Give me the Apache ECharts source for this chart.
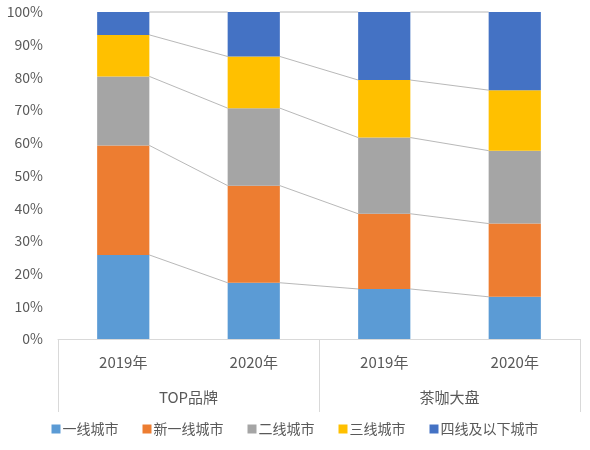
<!DOCTYPE html>
<html>
<head>
<meta charset="utf-8">
<script src="https://cdn.jsdelivr.net/npm/echarts@6/dist/echarts.min.js"></script>
<style>html,body{margin:0;padding:0;background:#fff}#c{width:590px;height:450px}</style>
</head>
<body>
<div id="c"></div>
<script>
var years = ['2019年', '2020年', '2019年', '2020年'];
var groups = ['TOP品牌', '茶咖大盘'];
var seriesNames = ['一线城市', '新一线城市', '二线城市', '三线城市', '四线及以下城市'];
var tier1 = [25.7, 17.2, 15.3, 12.9];
var newTier1 = [33.5, 29.7, 23.0, 22.4];
var tier2 = [21.1, 23.7, 23.3, 22.3];
var tier3 = [12.7, 15.8, 17.6, 18.5];
var tier4 = [7.0, 13.6, 20.8, 23.9];
var yTicks = [0, 10, 20, 30, 40, 50, 60, 70, 80, 90, 100];

var colors = ['#5B9BD5', '#ED7D31', '#A5A5A5', '#FFC000', '#4472C4'];
var allData = [tier1, newTier1, tier2, tier3, tier4];
var BAR_FRAC = 0.4;
var font = '"Noto Sans CJK SC", "Microsoft YaHei", sans-serif';

var chart = echarts.init(document.getElementById('c'));
var barSeries = seriesNames.map(function (n, k) {
  return {
    name: n, type: 'bar', stack: 'total', barWidth: (BAR_FRAC * 100) + '%',
    itemStyle: { color: colors[k] }, data: allData[k], z: 3
  };
});

function cum(i, k) {
  var s = 0;
  for (var j = 0; j <= k; j++) s += allData[j][i];
  return s;
}

var linkSeries = {
  type: 'custom', xAxisIndex: 0, yAxisIndex: 0, silent: true, z: 2,
  data: [[0], [1], [2]],
  encode: { x: 0 },
  renderItem: function (params, api) {
    var i = api.value(0);
    var bw = api.size([1, 0])[0];
    var children = [];
    for (var k = 0; k < allData.length; k++) {
      var a = api.coord([i, cum(i, k)]);
      var b = api.coord([i + 1, cum(i + 1, k)]);
      children.push({
        type: 'line',
        shape: { x1: a[0] + bw * BAR_FRAC / 2, y1: a[1], x2: b[0] - bw * BAR_FRAC / 2, y2: b[1] },
        style: { stroke: '#A6A6A6', lineWidth: 0.8 }
      });
    }
    return { type: 'group', children: children };
  }
};

chart.setOption({
  animation: false,
  textStyle: { fontFamily: font },
  grid: { left: 58, right: 10, top: 12, bottom: 111, containLabel: false },
  xAxis: [
    {
      type: 'category', data: years, position: 'bottom',
      axisLine: { show: true, lineStyle: { color: '#D9D9D9', width: 1 } },
      axisTick: { show: false },
      axisLabel: { color: '#595959', fontSize: 15, margin: 16, fontFamily: font }
    },
    {
      type: 'category', data: groups, position: 'bottom', offset: 0,
      axisLine: { show: false },
      axisTick: { show: true, length: 73, lineStyle: { color: '#D9D9D9', width: 1 } },
      axisLabel: { color: '#595959', fontSize: 15, margin: 51, fontFamily: font }
    }
  ],
  yAxis: {
    type: 'value', min: 0, max: 100, interval: 10,
    axisLine: { show: false }, axisTick: { show: false }, splitLine: { show: false },
    axisLabel: { color: '#595959', fontSize: 14, margin: 15, fontFamily: font,
      formatter: function (v) { return yTicks.indexOf(v) >= 0 ? v + '%' : ''; } }
  },
  legend: {
    data: seriesNames, bottom: 9, left: 'center', icon: 'rect',
    itemWidth: 9, itemHeight: 9, itemGap: 24,
    textStyle: { color: '#595959', fontSize: 14, fontFamily: font, padding: [0, 0, 0, -3] }
  },
  series: barSeries.concat([linkSeries])
});
</script>
</body>
</html>
